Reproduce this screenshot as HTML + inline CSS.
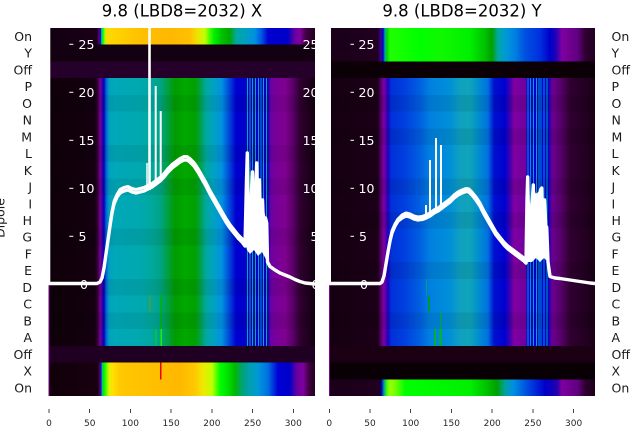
<!DOCTYPE html>
<html><head><meta charset="utf-8"><style>
html,body{margin:0;padding:0;background:#fff}
svg{display:block}
text{font-family:"DejaVu Sans","Liberation Sans",sans-serif}
</style></head><body>
<svg width="640" height="440" viewBox="0 0 640 440" xmlns="http://www.w3.org/2000/svg">
<defs>
<linearGradient id="mainL" gradientUnits="userSpaceOnUse" x1="0" y1="0" x2="640" y2="0">
<stop offset="0.0766" stop-color="#0e0008"/><stop offset="0.1484" stop-color="#140010"/>
<stop offset="0.1531" stop-color="#3a0040"/><stop offset="0.1563" stop-color="#7a0090"/>
<stop offset="0.1594" stop-color="#4000a0"/><stop offset="0.1625" stop-color="#0000c0"/>
<stop offset="0.1656" stop-color="#0060d0"/><stop offset="0.1703" stop-color="#00a0c0"/>
<stop offset="0.1797" stop-color="#00a8b8"/><stop offset="0.2188" stop-color="#00a8b0"/>
<stop offset="0.2344" stop-color="#00a8a0"/><stop offset="0.25" stop-color="#00a488"/>
<stop offset="0.2625" stop-color="#00a040"/><stop offset="0.2734" stop-color="#009c00"/>
<stop offset="0.2891" stop-color="#00a800"/><stop offset="0.3047" stop-color="#00a000"/>
<stop offset="0.3125" stop-color="#00a040"/><stop offset="0.3219" stop-color="#00a8a0"/>
<stop offset="0.3359" stop-color="#00a0c8"/><stop offset="0.3469" stop-color="#0090e0"/>
<stop offset="0.3594" stop-color="#0040d8"/><stop offset="0.3688" stop-color="#0000d0"/>
<stop offset="0.4188" stop-color="#1000c0"/><stop offset="0.4234" stop-color="#7000a0"/>
<stop offset="0.4453" stop-color="#800090"/><stop offset="0.4563" stop-color="#600070"/>
<stop offset="0.4688" stop-color="#300030"/><stop offset="0.4922" stop-color="#120010"/>
</linearGradient>
<linearGradient id="topL" gradientUnits="userSpaceOnUse" x1="0" y1="0" x2="640" y2="0">
<stop offset="0.0766" stop-color="#120010"/><stop offset="0.1516" stop-color="#1a0018"/>
<stop offset="0.1547" stop-color="#600080"/><stop offset="0.157" stop-color="#0000c0"/>
<stop offset="0.1586" stop-color="#00c0a0"/><stop offset="0.1609" stop-color="#00ff00"/>
<stop offset="0.1641" stop-color="#c0f000"/><stop offset="0.1688" stop-color="#ffd800"/>
<stop offset="0.1875" stop-color="#ffd000"/><stop offset="0.2188" stop-color="#ffc000"/>
<stop offset="0.2656" stop-color="#ffb800"/><stop offset="0.2969" stop-color="#ffc000"/>
<stop offset="0.3078" stop-color="#f0e000"/><stop offset="0.3203" stop-color="#c0ff00"/>
<stop offset="0.3281" stop-color="#40ff00"/><stop offset="0.3344" stop-color="#00f000"/>
<stop offset="0.3469" stop-color="#00c000"/><stop offset="0.3594" stop-color="#00a800"/>
<stop offset="0.3688" stop-color="#00a8a0"/><stop offset="0.3828" stop-color="#00a0c0"/>
<stop offset="0.3984" stop-color="#0090e0"/><stop offset="0.4094" stop-color="#0050e0"/>
<stop offset="0.4188" stop-color="#0000d0"/><stop offset="0.45" stop-color="#0000c8"/>
<stop offset="0.4594" stop-color="#6000a0"/><stop offset="0.4688" stop-color="#8000a0"/>
<stop offset="0.4781" stop-color="#400040"/><stop offset="0.4922" stop-color="#200020"/>
</linearGradient>
<linearGradient id="botL" gradientUnits="userSpaceOnUse" x1="0" y1="0" x2="640" y2="0">
<stop offset="0.0766" stop-color="#100008"/><stop offset="0.1531" stop-color="#180010"/>
<stop offset="0.1563" stop-color="#600080"/><stop offset="0.1578" stop-color="#0000c0"/>
<stop offset="0.1594" stop-color="#00c0c0"/><stop offset="0.1609" stop-color="#00e000"/>
<stop offset="0.1656" stop-color="#40ff00"/><stop offset="0.1703" stop-color="#e0f000"/>
<stop offset="0.1766" stop-color="#ffe000"/><stop offset="0.1875" stop-color="#ffc800"/>
<stop offset="0.2344" stop-color="#ffc000"/><stop offset="0.2813" stop-color="#ffb800"/>
<stop offset="0.3047" stop-color="#ffc800"/><stop offset="0.3172" stop-color="#f0e800"/>
<stop offset="0.3313" stop-color="#c0ff00"/><stop offset="0.3438" stop-color="#00ff00"/>
<stop offset="0.3563" stop-color="#00e000"/><stop offset="0.3672" stop-color="#00b800"/>
<stop offset="0.3797" stop-color="#00a080"/><stop offset="0.3906" stop-color="#00a0b0"/>
<stop offset="0.4031" stop-color="#0098d8"/><stop offset="0.4188" stop-color="#0070e0"/>
<stop offset="0.4344" stop-color="#0000d8"/><stop offset="0.4531" stop-color="#0000c8"/>
<stop offset="0.4625" stop-color="#6000a0"/><stop offset="0.4734" stop-color="#8000a0"/>
<stop offset="0.4828" stop-color="#400040"/><stop offset="0.4922" stop-color="#200020"/>
</linearGradient>
<linearGradient id="mainR" gradientUnits="userSpaceOnUse" x1="0" y1="0" x2="640" y2="0">
<stop offset="0.5141" stop-color="#140010"/><stop offset="0.5906" stop-color="#1c0018"/>
<stop offset="0.5953" stop-color="#5a0070"/><stop offset="0.6" stop-color="#8000a0"/>
<stop offset="0.6063" stop-color="#2000c0"/><stop offset="0.6109" stop-color="#0030d8"/>
<stop offset="0.6328" stop-color="#0040e0"/><stop offset="0.6563" stop-color="#0060e0"/>
<stop offset="0.6719" stop-color="#0080e0"/><stop offset="0.7031" stop-color="#0090d8"/>
<stop offset="0.7188" stop-color="#10a0c0"/><stop offset="0.7344" stop-color="#10a4b8"/>
<stop offset="0.7469" stop-color="#0090d0"/><stop offset="0.7625" stop-color="#0070e0"/>
<stop offset="0.7719" stop-color="#0010d0"/><stop offset="0.7891" stop-color="#0000d0"/>
<stop offset="0.7969" stop-color="#4000b0"/><stop offset="0.8031" stop-color="#8000a0"/>
<stop offset="0.8219" stop-color="#7000a0"/><stop offset="0.8234" stop-color="#0000d0"/>
<stop offset="0.8563" stop-color="#0000d0"/><stop offset="0.8625" stop-color="#6a0090"/>
<stop offset="0.875" stop-color="#5a0070"/><stop offset="0.8906" stop-color="#300030"/>
<stop offset="0.9297" stop-color="#1a0018"/>
</linearGradient>
<linearGradient id="topR" gradientUnits="userSpaceOnUse" x1="0" y1="0" x2="640" y2="0">
<stop offset="0.5141" stop-color="#1a0018"/><stop offset="0.5906" stop-color="#200020"/>
<stop offset="0.5953" stop-color="#4000a0"/><stop offset="0.5984" stop-color="#0000c0"/>
<stop offset="0.6016" stop-color="#00b0a0"/><stop offset="0.6047" stop-color="#00d000"/>
<stop offset="0.6094" stop-color="#20ff00"/><stop offset="0.6563" stop-color="#00ff00"/>
<stop offset="0.6875" stop-color="#10f800"/><stop offset="0.7344" stop-color="#00f000"/>
<stop offset="0.7578" stop-color="#00c000"/><stop offset="0.7688" stop-color="#00a000"/>
<stop offset="0.7781" stop-color="#00a8a0"/><stop offset="0.7906" stop-color="#0098d8"/>
<stop offset="0.8047" stop-color="#0080e0"/><stop offset="0.8203" stop-color="#0050e0"/>
<stop offset="0.8438" stop-color="#0030e0"/><stop offset="0.8594" stop-color="#0000c8"/>
<stop offset="0.8688" stop-color="#2000b8"/><stop offset="0.8781" stop-color="#8000a0"/>
<stop offset="0.9031" stop-color="#600080"/><stop offset="0.9141" stop-color="#300030"/>
<stop offset="0.9297" stop-color="#200020"/>
</linearGradient>
<linearGradient id="botR" gradientUnits="userSpaceOnUse" x1="0" y1="0" x2="640" y2="0">
<stop offset="0.5141" stop-color="#1a0018"/><stop offset="0.5938" stop-color="#200020"/>
<stop offset="0.5961" stop-color="#0000c0"/><stop offset="0.6" stop-color="#00a0a0"/>
<stop offset="0.6047" stop-color="#40ff00"/><stop offset="0.6094" stop-color="#a0ff00"/>
<stop offset="0.6203" stop-color="#60ff00"/><stop offset="0.6328" stop-color="#00ff00"/>
<stop offset="0.7344" stop-color="#00f000"/><stop offset="0.7609" stop-color="#00c000"/>
<stop offset="0.7766" stop-color="#00a000"/><stop offset="0.7891" stop-color="#00a0a0"/>
<stop offset="0.8016" stop-color="#0090e0"/><stop offset="0.8281" stop-color="#0040e0"/>
<stop offset="0.8516" stop-color="#0000c8"/><stop offset="0.8703" stop-color="#2000b0"/>
<stop offset="0.8781" stop-color="#8000a0"/><stop offset="0.9031" stop-color="#600080"/>
<stop offset="0.9141" stop-color="#300030"/><stop offset="0.9297" stop-color="#1a0018"/>
</linearGradient>
<clipPath id="cL"><rect x="48.5" y="28" width="266.5" height="368"/></clipPath>
<clipPath id="cR"><rect x="329" y="28" width="266" height="368"/></clipPath>
</defs>

<!-- LEFT PANEL HEATMAP -->
<g shape-rendering="crispEdges">
<rect x="48.5" y="28" width="266.5" height="16.73" fill="url(#topL)"/>
<rect x="48.5" y="44.73" width="266.5" height="16.72" fill="#130010"/>
<rect x="48.5" y="61.45" width="266.5" height="16.73" fill="#24002a"/>
<rect x="48.5" y="78.18" width="266.5" height="267.64" fill="url(#mainL)"/>
<rect x="48.5" y="345.82" width="266.5" height="16.73" fill="#200022"/>
<rect x="48.5" y="362.55" width="266.5" height="33.45" fill="url(#botL)"/>
<g fill="#00a8b8">
<rect x="247" y="78.18" width="1" height="267.64"/>
<rect x="249.3" y="78.18" width="1" height="267.64" fill="#00b090"/>
<rect x="252" y="78.18" width="1" height="267.64"/>
<rect x="255" y="78.18" width="1" height="267.64" fill="#00b090"/>
<rect x="258" y="78.18" width="1" height="267.64"/>
<rect x="260.5" y="78.18" width="1" height="267.64" fill="#0090e0"/>
<rect x="263" y="78.18" width="1" height="267.64"/>
<rect x="266" y="78.18" width="1" height="267.64" fill="#00b090"/>
</g>
<g fill="#000" opacity="0.06">
<rect x="48.5" y="94.9" width="266.5" height="16.73"/>
<rect x="48.5" y="145.1" width="266.5" height="16.73"/>
<rect x="48.5" y="178.5" width="266.5" height="16.73"/>
<rect x="48.5" y="228.7" width="266.5" height="16.73"/>
<rect x="48.5" y="278.9" width="266.5" height="16.73"/>
<rect x="48.5" y="312.4" width="266.5" height="16.73"/>
</g>
<rect x="149.3" y="295" width="1.4" height="17.5" fill="#7a9a00"/>
<rect x="160.5" y="295" width="1.3" height="17.5" fill="#00b000"/>
<rect x="160.5" y="312.5" width="1.3" height="16.5" fill="#00a800"/>
<rect x="155.3" y="329" width="1.3" height="16.8" fill="#00e000"/>
<rect x="160.3" y="329" width="1.6" height="16.8" fill="#20f000"/>
<rect x="160" y="362.6" width="1.7" height="16.7" fill="#ee0000"/>
<rect x="48.5" y="284" width="1" height="112" fill="#7a0090"/>
</g>

<!-- RIGHT PANEL HEATMAP -->
<g shape-rendering="crispEdges">
<rect x="329" y="28" width="266" height="33.45" fill="url(#topR)"/>
<rect x="329" y="61.45" width="266" height="16.73" fill="#0a0006"/>
<rect x="329" y="78.18" width="266" height="267.64" fill="url(#mainR)"/>
<rect x="329" y="345.82" width="266" height="16.73" fill="#1a0012"/>
<rect x="329" y="362.55" width="266" height="16.72" fill="#080004"/>
<rect x="329" y="379.27" width="266" height="16.73" fill="url(#botR)"/>
<g fill="#00a0c8">
<rect x="527.3" y="78.18" width="1" height="267.64"/>
<rect x="530" y="78.18" width="1" height="267.64" fill="#0090e0"/>
<rect x="533" y="78.18" width="1" height="267.64"/>
<rect x="536" y="78.18" width="1" height="267.64" fill="#00a8b0"/>
<rect x="538.5" y="78.18" width="1" height="267.64"/>
<rect x="540.7" y="78.18" width="1" height="267.64" fill="#0090e0"/>
<rect x="543.3" y="78.18" width="1" height="267.64"/>
<rect x="546.5" y="78.18" width="1" height="267.64" fill="#00a8b0"/>
</g>
<g fill="#000" opacity="0.07">
<rect x="329" y="94.9" width="266" height="16.73"/>
<rect x="329" y="128.4" width="266" height="16.73"/>
<rect x="329" y="178.5" width="266" height="16.73"/>
<rect x="329" y="212" width="266" height="16.73"/>
<rect x="329" y="262.2" width="266" height="16.73"/>
<rect x="329" y="312.4" width="266" height="16.73"/>
</g>
<rect x="426" y="279" width="1.2" height="16" fill="#00a080"/>
<rect x="428.7" y="296" width="1.3" height="16" fill="#00a000"/>
<rect x="440" y="312" width="1.3" height="16.5" fill="#00a050"/>
<rect x="434.3" y="329" width="1.7" height="16.8" fill="#00c000"/>
<rect x="439.5" y="329" width="2" height="16.8" fill="#00c000"/>
<rect x="329" y="284" width="1" height="112" fill="#8000a0"/>
</g>

<!-- inner white tick labels -->
<g fill="#fff" font-size="12.5">
<g stroke="#fff" stroke-width="1">
<line x1="69.3" y1="44.3" x2="73.3" y2="44.3"/><line x1="69.3" y1="92.3" x2="73.3" y2="92.3"/>
<line x1="69.3" y1="140.3" x2="73.3" y2="140.3"/><line x1="69.3" y1="188.3" x2="73.3" y2="188.3"/>
<line x1="69.3" y1="236.3" x2="73.3" y2="236.3"/>
<line x1="350.5" y1="44.3" x2="354" y2="44.3"/><line x1="350.5" y1="92.3" x2="354" y2="92.3"/>
<line x1="350.5" y1="140.3" x2="354" y2="140.3"/><line x1="350.5" y1="188.3" x2="354" y2="188.3"/>
<line x1="350.5" y1="236.3" x2="354" y2="236.3"/>
</g>
<text x="78.5" y="48.9">25</text><text x="78.5" y="96.9">20</text><text x="78.5" y="144.9">15</text>
<text x="78.5" y="192.9">10</text><text x="78.5" y="240.9">5</text><text x="80" y="288.9">0</text>
<text x="358.5" y="48.9">25</text><text x="358.5" y="96.9">20</text><text x="358.5" y="144.9">15</text>
<text x="358.5" y="192.9">10</text><text x="359" y="240.9">5</text><text x="360" y="288.9">0</text>
<g clip-path="url(#cL)" text-anchor="end">
<text x="318.5" y="48.9">25</text><text x="318.5" y="96.9">20</text><text x="318.5" y="144.9">15</text>
<text x="318.5" y="192.9">10</text><text x="318.5" y="240.9">5</text><text x="319.5" y="288.9">0</text>
</g>
</g>

<!-- LEFT WHITE CURVE -->
<g clip-path="url(#cL)" fill="none" stroke="#fff" stroke-linejoin="round" stroke-linecap="round">
<rect x="48.5" y="28" width="1.8" height="256" fill="#fff" stroke="none"/>
<path stroke-width="3.4" d="M49,283.5 L97,283.5 L100,282 L102,278 L104,268 L106,254 L108,240 L110,226 L112,213 L114,204 L117,197 L120,193 L124,191 L128,190 L132,192 L136,193 L140,192 L144,191 L148,189 L152,187 L156,184 L160,181 L164,177 L168,172 L172,168 L176,165 L180,162 L184,160 L187,160 L190,162 L194,166 L198,172 L202,179 L206,186 L210,194 L214,201 L218,208 L222,215 L226,222 L230,228 L234,233 L238,238 L242,242 L245,246 L246.5,180 L247.3,153 L248.3,230 L249.5,250 L251,200 L252.5,172 L254,235 L255.5,200 L256.7,163 L258,230 L259.5,180 L261,250 L262.5,200 L264,240 L265.5,218 L266.7,223 L267.5,262 L270,266.5 L275,270 L280,273 L285,275 L290,277 L295,279.5 L300,281.5 L305,283 L315,284"/>
<path stroke-width="3" transform="translate(0,-3.5)" d="M110,228 L112,215 L114,205 L117,198 L120,193 L124,191 L128,190 L132,192 L136,193 L140,192 L144,191 L148,189 L152,187 L156,184 L160,181 L164,177 L168,172 L172,168 L176,165 L180,162 L184,160 L187,160 L190,162 L194,166 L198,172 L202,179 L206,186 L210,194 L214,201 L218,208 L222,215 L226,222 L230,228 L234,233 L238,238 L242,242 L245,246"/>
<g stroke-linecap="butt">
<line x1="149.5" y1="190" x2="149.5" y2="20" stroke-width="2.6"/>
<line x1="147" y1="190" x2="147" y2="163" stroke-width="1.5"/>
<line x1="155.7" y1="186" x2="155.7" y2="86" stroke-width="2"/>
<line x1="160.7" y1="182" x2="160.7" y2="111" stroke-width="2"/>
</g>
<polygon fill="#fff" stroke="none" points="246,246 247.3,153 248.5,205 250,215 252.5,172 254,200 256.7,163 258.5,190 260,180 262,205 264,210 266.7,223 267.5,262 262,252 258,256 254,250 250,254 247,250"/>
</g>

<!-- RIGHT WHITE CURVE -->
<g clip-path="url(#cR)" fill="none" stroke="#fff" stroke-linejoin="round" stroke-linecap="round">
<rect x="329" y="28" width="2" height="256" fill="#fff" stroke="none"/>
<path stroke-width="3.4" d="M329,283.5 L380,283.5 L382,282 L384,276 L386,264 L388,252 L390,241 L392,233 L395,226 L398,221 L402,218 L406,216 L410,217 L414,219 L418,220 L422,219.5 L426,218 L430,216 L434,213 L438,211 L442,208 L446,205 L450,202 L454,198 L458,195 L462,193 L466,191.5 L469,192 L472,195 L476,200 L480,206 L484,214 L488,221 L492,228 L496,235 L500,240 L504,245 L508,249 L512,252 L516,255 L520,258 L524,261 L526,263 L527,200 L527.7,177 L529,240 L530.5,260 L532,205 L533.3,185 L534.5,250 L536,195 L537.5,255 L539,200 L540.5,190 L541.7,188 L543,250 L544.5,200 L546,230 L546.7,227 L548,262 L550,276.5 L555,278 L560,278.5 L570,280 L580,281.5 L590,283 L595,283.5"/>
<path stroke-width="3" transform="translate(0,-3)" d="M390,243 L392,234 L395,227 L398,222 L402,218 L406,216 L410,217 L414,219 L418,220 L422,219.5 L426,218 L430,216 L434,213 L438,211 L442,208 L446,205 L450,202 L454,198 L458,195 L462,193 L466,191.5 L469,192 L472,195 L476,200 L480,206 L484,214 L488,221 L492,228 L496,235 L500,240 L504,245 L508,249 L512,252 L516,255 L520,258 L524,261"/>
<g stroke-linecap="butt">
<line x1="426" y1="218" x2="426" y2="205" stroke-width="2"/>
<line x1="430" y1="216" x2="430" y2="160" stroke-width="2"/>
<line x1="436" y1="213" x2="436" y2="138" stroke-width="2"/>
<line x1="441" y1="209" x2="441" y2="145" stroke-width="2"/>
</g>
<polygon fill="#fff" stroke="none" points="526,263 527.7,177 530,205 533.3,185 536,195 538,192 541.7,188 544,200 546.7,227 548,262 544,258 540,262 536,258 532,262 528,262"/>
</g>

<!-- TITLES -->
<g fill="#000" font-size="16.5" text-anchor="middle">
<text x="182" y="16.5">9.8 (LBD8=2032) X</text>
<text x="462" y="16.5">9.8 (LBD8=2032) Y</text>
</g>

<!-- ROW LABELS -->
<g fill="#1a1a1a" font-size="12.5" text-anchor="end">
<text x="32" y="41.0">On</text><text x="32" y="57.7">Y</text><text x="32" y="74.5">Off</text>
<text x="32" y="91.2">P</text><text x="32" y="107.9">O</text><text x="32" y="124.6">N</text>
<text x="32" y="141.4">M</text><text x="32" y="158.1">L</text><text x="32" y="174.8">K</text>
<text x="32" y="191.5">J</text><text x="32" y="208.3">I</text><text x="32" y="225.0">H</text>
<text x="32" y="241.7">G</text><text x="32" y="258.5">F</text><text x="32" y="275.2">E</text>
<text x="32" y="291.9">D</text><text x="32" y="308.6">C</text><text x="32" y="325.4">B</text>
<text x="32" y="342.1">A</text><text x="32" y="358.8">Off</text><text x="32" y="375.5">X</text>
<text x="32" y="392.3">On</text>
</g>
<g fill="#1a1a1a" font-size="12.5" text-anchor="start">
<text x="611.5" y="41.0">On</text><text x="611.5" y="57.7">Y</text><text x="611.5" y="74.5">Off</text>
<text x="611.5" y="91.2">P</text><text x="611.5" y="107.9">O</text><text x="611.5" y="124.6">N</text>
<text x="611.5" y="141.4">M</text><text x="611.5" y="158.1">L</text><text x="611.5" y="174.8">K</text>
<text x="611.5" y="191.5">J</text><text x="611.5" y="208.3">I</text><text x="611.5" y="225.0">H</text>
<text x="611.5" y="241.7">G</text><text x="611.5" y="258.5">F</text><text x="611.5" y="275.2">E</text>
<text x="611.5" y="291.9">D</text><text x="611.5" y="308.6">C</text><text x="611.5" y="325.4">B</text>
<text x="611.5" y="342.1">A</text><text x="611.5" y="358.8">Off</text><text x="611.5" y="375.5">X</text>
<text x="611.5" y="392.3">On</text>
</g>
<text transform="translate(4.5,218) rotate(-90)" text-anchor="middle" font-size="12.5" fill="#1a1a1a">Dipole</text>

<!-- X TICKS -->
<g stroke="#444" stroke-width="1" shape-rendering="crispEdges">
<line x1="49" y1="409" x2="49" y2="413"/><line x1="89.7" y1="409" x2="89.7" y2="413"/>
<line x1="130.4" y1="409" x2="130.4" y2="413"/><line x1="171.1" y1="409" x2="171.1" y2="413"/>
<line x1="211.9" y1="409" x2="211.9" y2="413"/><line x1="252.6" y1="409" x2="252.6" y2="413"/>
<line x1="293.3" y1="409" x2="293.3" y2="413"/>
<line x1="329.3" y1="409" x2="329.3" y2="413"/><line x1="370" y1="409" x2="370" y2="413"/>
<line x1="410.7" y1="409" x2="410.7" y2="413"/><line x1="451.4" y1="409" x2="451.4" y2="413"/>
<line x1="492.2" y1="409" x2="492.2" y2="413"/><line x1="532.9" y1="409" x2="532.9" y2="413"/>
<line x1="573.6" y1="409" x2="573.6" y2="413"/>
</g>
<g fill="#262626" font-size="9" text-anchor="middle">
<text x="49" y="426">0</text><text x="89.7" y="426">50</text><text x="130.4" y="426">100</text>
<text x="171.1" y="426">150</text><text x="211.9" y="426">200</text><text x="252.6" y="426">250</text>
<text x="293.3" y="426">300</text>
<text x="329.3" y="426">0</text><text x="370" y="426">50</text><text x="410.7" y="426">100</text>
<text x="451.4" y="426">150</text><text x="492.2" y="426">200</text><text x="532.9" y="426">250</text>
<text x="573.6" y="426">300</text>
</g>
</svg>
</body></html>
